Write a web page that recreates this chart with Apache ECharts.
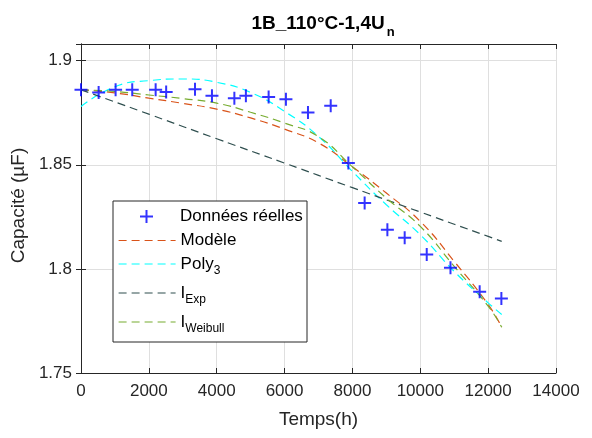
<!DOCTYPE html>
<html><head><meta charset="utf-8">
<script src="https://cdn.jsdelivr.net/npm/echarts@6/dist/echarts.min.js"></script>
<style>html,body{margin:0;padding:0;background:#fff}#c{width:592px;height:438px}</style>
</head><body><div id="c"></div>
<script>
// Measured data points (Données réelles)
var timeData = [0, 520, 1020, 1510, 2200, 2510, 3360, 3860, 4520, 4860, 5530, 6040, 6690, 7360, 7880, 8360, 9030, 9540, 10190, 10890, 11750, 12390];
var capData  = [1.886, 1.8847, 1.886, 1.886, 1.886, 1.8849, 1.8863, 1.8831, 1.882, 1.8832, 1.8825, 1.8815, 1.8751, 1.8783, 1.8508, 1.8316, 1.8188, 1.8149, 1.8069, 1.8005, 1.789, 1.7858];
// Fitted curves read at sample times
var curveX   = [0, 1000, 2000, 3000, 4000, 5000, 6000, 7000, 8000, 9000, 10000, 11000, 12000, 12400];
var modeleY  = [1.886, 1.8845, 1.882, 1.8795, 1.8767, 1.8725, 1.8671, 1.8605, 1.849, 1.8364, 1.8228, 1.8036, 1.7829, 1.772];
var polyY    = [1.878, 1.8875, 1.8904, 1.8912, 1.8896, 1.8847, 1.8756, 1.8636, 1.8468, 1.8308, 1.8164, 1.7988, 1.7837, 1.7781];
var weibullY = [1.886, 1.8852, 1.8835, 1.8818, 1.8796, 1.8752, 1.870, 1.8635, 1.849, 1.834, 1.8204, 1.8012, 1.7821, 1.772];
var expX     = [0, 2000, 4000, 6000, 8000, 10000, 12000, 12400];
var expY     = [1.886, 1.8743, 1.8625, 1.8508, 1.839, 1.8273, 1.8156, 1.8132];
var xTicks = {min: 0, max: 14000, step: 2000};
var yTicks = {min: 1.75, max: 1.908, step: 0.05};

function pairs(xs, ys) { return xs.map(function (x, i) { return [x, ys[i]]; }); }

var FONT = 'Liberation Sans, Arial, Helvetica, sans-serif';
var AX = '#262626';
var TXT = '#262626';
var COL = {modele: '#D95319', poly: '#00FFFF', exp: '#2F4F4F', weibull: '#77AC30', data: '#0000ff'};
var DASH = [8, 5];
var plus = 'path://M5.5,0H7.5V5.5H13V7.5H7.5V13H5.5V7.5H0V5.5H5.5Z';
var plusWide = 'path://M0,6.5L0.01,6.5L0,6.6Z M57,6.5L56.99,6.5L57,6.6Z M27.5,0H29.5V5.5H35V7.5H29.5V13H27.5V7.5H22V5.5H27.5Z';
var subRich = {
  a: {fontSize: 17, fontFamily: FONT, color: '#000', lineHeight: 20},
  s: {fontSize: 12, fontFamily: FONT, color: '#000', padding: [14, 0, 0, 0], lineHeight: 20}
};

var chart = echarts.init(document.getElementById('c'), null, {renderer: 'canvas'});
var lineBase = function (name, xs, ys, color) {
  return {
    name: name, type: 'line', data: pairs(xs, ys), smooth: true, symbol: 'none',
    lineStyle: {color: color, width: 1.2, type: DASH}, itemStyle: {color: color},
    z: 3, animation: false
  };
};
function leg(name, top, color, fmt, isScatter) {
  var o = {
    data: isScatter ? [{name: name, icon: plusWide}] : [name],
    left: 118, top: top, itemWidth: 57, itemHeight: 13, itemGap: 0, padding: 0,
    z: 20, selectedMode: false,
    textStyle: {fontSize: 17, fontFamily: FONT, color: '#000', rich: subRich},
    formatter: fmt || function (n) { return n; }
  };
  if (!isScatter) {
    o.itemStyle = {opacity: 0};
    o.lineStyle = {color: color, width: 1.2, type: DASH, opacity: 1};
  }
  return o;
}

chart.setOption({
  animation: false,
  backgroundColor: '#fff',
  title: {
    text: '{a|1B_110°C-1,4U}{s|n}',
    left: 318, top: 7, textAlign: 'center',
    textStyle: {
      rich: {
        a: {fontSize: 19, fontWeight: 'bold', fontFamily: FONT, color: '#000', lineHeight: 24},
        s: {fontSize: 13, fontWeight: 'bold', fontFamily: FONT, color: '#000', padding: [16, 0, 0, 2], lineHeight: 24}
      }
    }
  },
  grid: {left: 81, right: 36, top: 44, bottom: 65},
  legend: [
    leg('Données réelles', 208, COL.data, null, true),
    leg('Modèle', 232, COL.modele),
    leg('Poly3', 251, COL.poly, function () { return '{a|Poly}{s|3}'; }),
    leg('IExp', 280, COL.exp, function () { return '{a|I}{s|Exp}'; }),
    leg('IWeibull', 309, COL.weibull, function () { return '{a|I}{s|Weibull}'; })
  ],
  graphic: [{
    type: 'rect', shape: {x: 113, y: 201, width: 194, height: 141},
    style: {fill: '#fff', stroke: AX, lineWidth: 1}, z: 15
  }],
  xAxis: [{
    type: 'value', min: xTicks.min, max: xTicks.max, interval: xTicks.step,
    name: 'Temps(h)', nameLocation: 'middle', nameGap: 37,
    nameTextStyle: {fontSize: 19, fontFamily: FONT, color: TXT},
    axisLine: {show: true, onZero: false, lineStyle: {color: AX}},
    axisTick: {show: true, inside: true, length: 5, lineStyle: {color: AX}},
    axisLabel: {fontSize: 17, fontFamily: FONT, color: TXT, margin: 10,
      formatter: function (v) { return String(v); }},
    splitLine: {show: true, lineStyle: {color: '#dfdfdf', width: 1}}
  }, {
    type: 'value', position: 'top', min: xTicks.min, max: xTicks.max, interval: xTicks.step,
    axisLine: {show: true, lineStyle: {color: AX}},
    axisTick: {show: true, inside: true, length: 5, lineStyle: {color: AX}},
    axisLabel: {show: false}, splitLine: {show: false}
  }],
  yAxis: [{
    type: 'value', min: yTicks.min, max: yTicks.max, interval: yTicks.step,
    name: 'Capacité (µF)', nameLocation: 'middle', nameGap: 51,
    nameTextStyle: {fontSize: 19, fontFamily: FONT, color: TXT, padding: [0, 0, 0, 6]},
    axisLine: {show: true, onZero: false, lineStyle: {color: AX}},
    axisTick: {show: true, inside: true, length: 5, lineStyle: {color: AX}},
    axisLabel: {fontSize: 17, fontFamily: FONT, color: TXT, margin: 9, showMaxLabel: false,
      formatter: function (v) { return String(Math.round(v * 100) / 100); }},
    splitLine: {show: true, lineStyle: {color: '#dfdfdf', width: 1}}
  }, {
    type: 'value', position: 'right', min: yTicks.min, max: yTicks.max, interval: yTicks.step,
    axisLine: {show: true, lineStyle: {color: AX}},
    axisTick: {show: true, inside: true, length: 5, lineStyle: {color: AX}},
    axisLabel: {show: false}, splitLine: {show: false}
  }],
  series: [
    {
      name: 'Données réelles', type: 'scatter', data: pairs(timeData, capData),
      symbol: plus, symbolSize: 13, itemStyle: {color: COL.data}, z: 4, animation: false
    },
    lineBase('Modèle', curveX, modeleY, COL.modele),
    lineBase('Poly3', curveX, polyY, COL.poly),
    lineBase('IExp', expX, expY, COL.exp),
    lineBase('IWeibull', curveX, weibullY, COL.weibull)
  ]
});
</script>
</body></html>
